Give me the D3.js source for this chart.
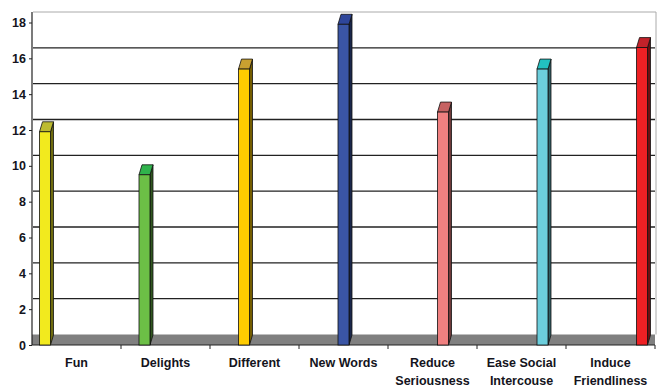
<!DOCTYPE html>
<html>
<head>
<meta charset="utf-8">
<script src="https://cdn.jsdelivr.net/npm/d3@7/dist/d3.min.js"></script>
<style>
  body { margin: 0; background: #fff; }
  text { font-family: "Liberation Sans", Arial, sans-serif; font-weight: bold; fill: #141420; }
</style>
</head>
<body>
<svg id="chart" width="659" height="387"></svg>
<script>
// Data.
var categories = ['Fun', 'Delights', 'Different', 'New Words', 'Reduce\nSeriousness', 'Ease Social\nIntercouse', 'Induce\nFriendliness'];
var values = [11.9, 9.5, 15.4, 17.9, 13.0, 15.4, 16.6];
var yTicks = [0, 2, 4, 6, 8, 10, 12, 14, 16, 18];

// Colours of the bar faces (front, top, side).
var FRONT = ['#f2ea1e', '#6cbf46', '#ffcc00', '#3a55a5', '#f08080', '#6ccedc', '#ee2024'];
var TOP = ['#bdbb30', '#30b34c', '#c9a030', '#2e469a', '#c66262', '#22c0c0', '#c2222a'];

// Layout.
var LEFT = 32, RIGHT = 655, BOTTOM = 345, TOP_Y = 22.5;
var WALL_DY = 10.5;   // depth of the back wall
var BAR_W = 11, BAR_DX = 3, BAR_DY = 10;

var svg = d3.select('#chart');

var x = d3.scaleBand().domain(categories).range([LEFT, RIGHT]);
var xBar = d3.scalePoint().domain(categories).range([39.5, 636.5]);
var y = d3.scaleLinear().domain([0, 18]).range([BOTTOM, TOP_Y]);

// Back wall gridlines.
svg.append('g').selectAll('line')
  .data(yTicks.filter(function(d) { return d > 0 && d < 18; }))
  .enter().append('line')
  .attr('x1', LEFT + 1).attr('x2', RIGHT)
  .attr('y1', function(d) { return y(d) - WALL_DY; })
  .attr('y2', function(d) { return y(d) - WALL_DY; })
  .attr('stroke', '#222').attr('stroke-width', 1.4);

// Wall outline (top and right).
svg.append('path')
  .attr('d', 'M' + (LEFT + 1) + ',' + (y(18) - WALL_DY) + 'H' + (RIGHT + 1) + 'V' + (y(0) - WALL_DY))
  .attr('fill', 'none').attr('stroke', '#aaa').attr('stroke-width', 1);

// Floor.
svg.append('rect')
  .attr('x', LEFT).attr('y', y(0) - WALL_DY)
  .attr('width', RIGHT - LEFT).attr('height', WALL_DY)
  .attr('fill', '#808080');

// Y axis.
var yAxis = svg.append('g')
  .attr('transform', 'translate(' + LEFT + ',0)')
  .call(d3.axisLeft(y).tickValues(yTicks).tickSize(3).tickSizeOuter(0).tickPadding(3));
yAxis.select('.domain').remove();
yAxis.selectAll('.tick line').attr('stroke', '#222');
yAxis.selectAll('.tick text').attr('font-size', 12.5).attr('fill', '#141420');
svg.append('line')
  .attr('x1', LEFT).attr('x2', LEFT)
  .attr('y1', y(18) - WALL_DY).attr('y2', BOTTOM)
  .attr('stroke', '#222').attr('stroke-width', 1.2);

// X axis line with category boundary ticks.
svg.append('line')
  .attr('x1', LEFT).attr('x2', RIGHT)
  .attr('y1', BOTTOM).attr('y2', BOTTOM)
  .attr('stroke', '#222').attr('stroke-width', 1.2);
svg.append('g').selectAll('line')
  .data(categories)
  .enter().append('line')
  .attr('x1', function(d) { return x(d) + x.bandwidth(); })
  .attr('x2', function(d) { return x(d) + x.bandwidth(); })
  .attr('y1', BOTTOM).attr('y2', BOTTOM + 4)
  .attr('stroke', '#222');

// Category labels.
var labels = svg.append('g').selectAll('text')
  .data(categories)
  .enter().append('text')
  .attr('text-anchor', 'middle')
  .attr('font-size', 12.5)
  .attr('x', function(d) { return x(d) + x.bandwidth() / 2; })
  .attr('y', 366.5);
labels.selectAll('tspan')
  .data(function(d) { return d.split('\n'); })
  .enter().append('tspan')
  .attr('x', function() { var c = this.parentNode.__data__; return x(c) + x.bandwidth() / 2; })
  .attr('dy', function(d, i) { return i === 0 ? 0 : 18.5; })
  .text(function(d) { return d; });

// 3D bars.
var bars = svg.append('g').selectAll('g')
  .data(categories)
  .enter().append('g');

bars.append('path')   // right side face
  .attr('d', function(d, i) {
    var x1 = xBar(d) + BAR_W, yt = y(values[i]);
    return 'M' + x1 + ',' + yt + 'L' + (x1 + BAR_DX) + ',' + (yt - BAR_DY) +
      'L' + (x1 + BAR_DX) + ',' + (BOTTOM - BAR_DY) + 'L' + x1 + ',' + BOTTOM + 'Z';
  })
  .attr('fill', function(d, i) { return d3.color(FRONT[i]).darker(2.2); })
  .attr('stroke', '#111').attr('stroke-width', 0.8);

bars.append('path')   // top face
  .attr('d', function(d, i) {
    var x0 = xBar(d), x1 = x0 + BAR_W, yt = y(values[i]);
    return 'M' + x0 + ',' + yt + 'L' + x1 + ',' + yt + 'L' + (x1 + BAR_DX) + ',' + (yt - BAR_DY) +
      'L' + (x0 + BAR_DX) + ',' + (yt - BAR_DY) + 'Z';
  })
  .attr('fill', function(d, i) { return TOP[i]; })
  .attr('stroke', '#111').attr('stroke-width', 0.8);

bars.append('rect')   // front face
  .attr('x', function(d) { return xBar(d); })
  .attr('y', function(d, i) { return y(values[i]); })
  .attr('width', BAR_W)
  .attr('height', function(d, i) { return BOTTOM - y(values[i]); })
  .attr('fill', function(d, i) { return FRONT[i]; })
  .attr('stroke', '#111').attr('stroke-width', 0.8);
</script>
</body>
</html>
